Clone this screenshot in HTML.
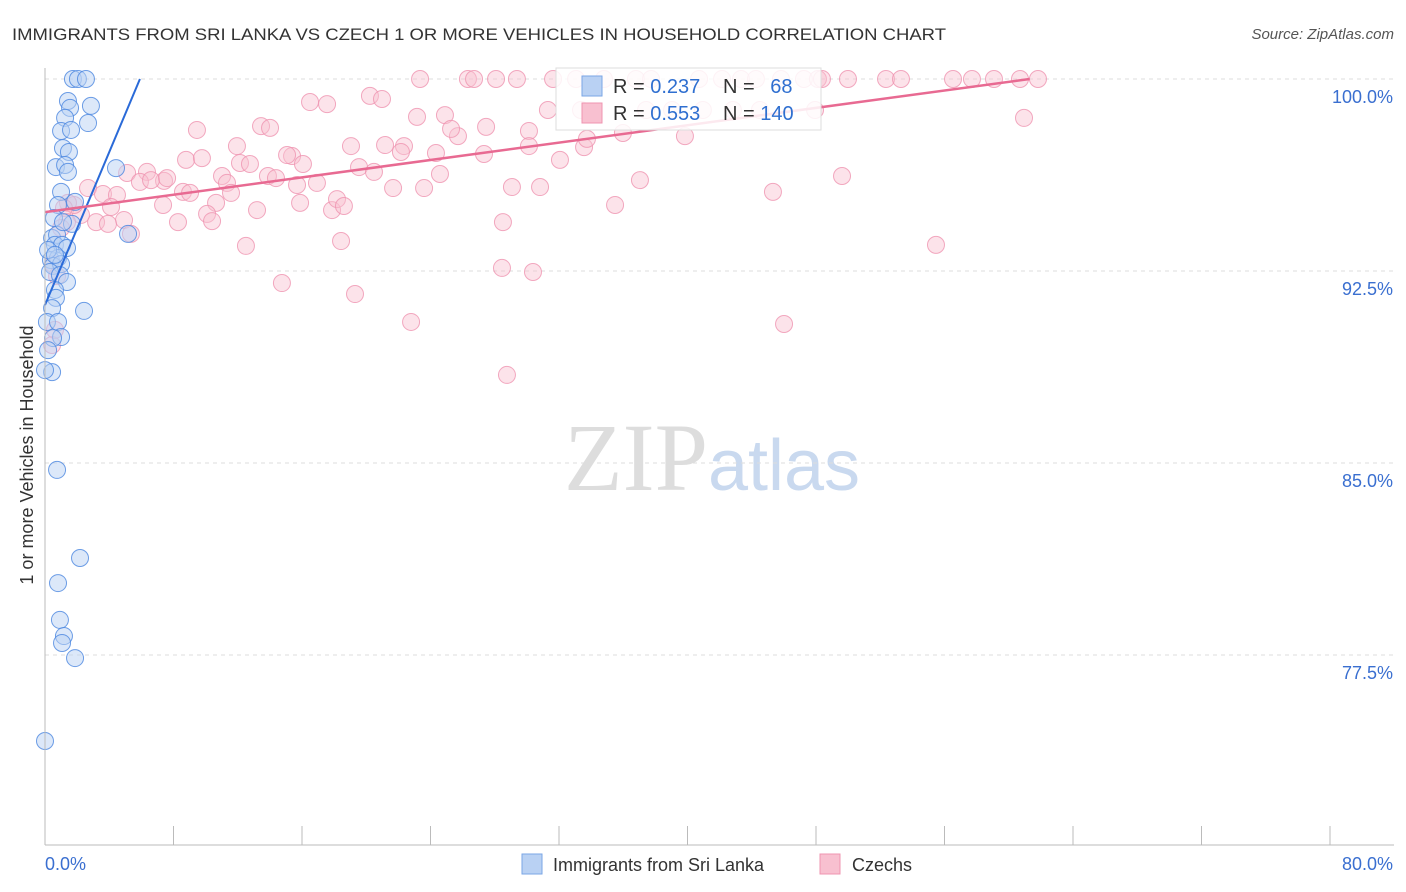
<!DOCTYPE html>
<html><head><meta charset="utf-8"><style>
body{margin:0;background:#fff;font-family:"Liberation Sans",sans-serif}
#c{position:absolute;left:0;top:0}
</style></head><body>
<svg id="c" width="1406" height="892" xmlns="http://www.w3.org/2000/svg">
<text x="12" y="40" font-size="17" fill="#333" textLength="934" lengthAdjust="spacingAndGlyphs">IMMIGRANTS FROM SRI LANKA VS CZECH 1 OR MORE VEHICLES IN HOUSEHOLD CORRELATION CHART</text>
<text x="1394" y="39" font-size="15" font-style="italic" fill="#555" text-anchor="end">Source: ZipAtlas.com</text>
<text transform="translate(33,455) rotate(-90)" font-size="18" fill="#333" text-anchor="middle">1 or more Vehicles in Household</text>
<text x="712" y="490" font-size="96" text-anchor="middle" font-family="Liberation Serif" fill="#ddd">ZIP<tspan fill="#c9d9ef" font-family="Liberation Sans" font-size="72">atlas</tspan></text>
<g id="grid"></g><g id="pts"></g><g id="lines"></g>
<line x1="45" y1="68" x2="45" y2="845" stroke="#bbb"/>
<line x1="45" y1="845" x2="1394" y2="845" stroke="#bbb"/>
<g id="ticks"></g>
<g>
<rect x="556" y="68" width="265" height="62" fill="#fff" fill-opacity="0.85" stroke="#ddd"/>
<rect x="582" y="76" width="20" height="20" fill="#b9d1f3" stroke="#7aa6e6"/>
<rect x="582" y="103" width="20" height="20" fill="#f8c0d0" stroke="#ef94b0"/>
<text x="613" y="93" font-size="20" fill="#333">R = <tspan fill="#2f6fd0">0.237</tspan></text>
<text x="723" y="93" font-size="20" fill="#333">N = <tspan fill="#2f6fd0" dx="10">68</tspan></text>
<text x="613" y="120" font-size="20" fill="#333">R = <tspan fill="#2f6fd0">0.553</tspan></text>
<text x="723" y="120" font-size="20" fill="#333">N = <tspan fill="#2f6fd0">140</tspan></text>
</g>
<g>
<rect x="522" y="854" width="20" height="20" fill="#b9d1f3" stroke="#7aa6e6"/>
<text x="553" y="871" font-size="18" fill="#333">Immigrants from Sri Lanka</text>
<rect x="820" y="854" width="20" height="20" fill="#f8c0d0" stroke="#ef94b0"/>
<text x="852" y="871" font-size="18" fill="#333">Czechs</text>
</g>
</svg>
<script>
const yTicks=[100,92.5,85,77.5];
const yTickLabels=["100.0%","92.5%","85.0%","77.5%"];
const xTicks=[0,8,16,24,32,40,48,56,64,72,80];
const xEndLabels=["0.0%","80.0%"];
const blueX=[1.74,2.05,2.55,1.43,1.56,2.86,1.25,2.68,1.00,1.62,1.12,1.49,0.68,1.25,1.43,4.42,1.00,0.81,1.87,1.68,5.17,0.44,0.75,0.62,1.06,1.37,0.37,0.81,0.50,1.00,0.31,0.93,1.37,0.62,0.68,0.44,2.43,0.12,0.81,1.00,0.50,0.19,0.44,0.00,0.75,2.18,0.81,0.93,1.18,1.06,1.87,0.00,0.56,1.12,0.19,0.62];
const blueY=[100,100,100,99.14,98.87,98.95,98.48,98.28,97.97,98.01,97.30,97.15,96.56,96.64,96.37,96.52,95.59,95.08,95.20,94.34,93.95,93.79,93.91,93.52,93.52,93.40,92.93,93.01,92.70,92.77,92.46,92.34,92.07,91.76,91.45,91.05,90.94,90.51,90.51,89.92,89.88,89.41,88.55,88.63,84.73,81.29,80.31,78.87,78.24,77.97,77.38,74.14,94.57,94.41,93.32,93.13];
const pinkX=[23.35,26.33,26.71,28.08,29.38,31.63,33.06,34.80,36.79,37.73,40.72,42.15,43.33,44.26,45.82,47.25,48.12,48.37,49.99,52.36,53.29,56.53,57.71,59.08,60.70,61.82,
31.31,33.37,37.42,39.04,40.96,42.83,44.51,47.94,
16.50,17.56,20.23,20.98,9.46,11.95,13.45,14.01,15.38,15.07,19.05,21.17,22.35,22.16,23.16,24.90,25.71,25.28,27.46,27.33,24.34,30.13,30.13,32.06,33.56,33.74,35.98,39.84,
8.78,9.77,6.35,7.41,5.11,5.91,6.60,7.60,8.59,9.03,11.02,11.33,12.14,12.76,13.88,14.38,15.69,16.06,16.93,11.58,10.65,13.20,15.88,17.87,18.18,18.61,19.55,20.48,21.67,23.60,24.59,29.07,30.82,35.49,37.04,45.32,49.62,
2.68,3.61,4.48,4.11,4.92,5.35,3.18,3.92,2.24,1.81,1.43,1.18,1.37,1.00,8.28,10.09,10.40,7.35,12.51,14.75,18.43,19.30,22.79,28.51,28.45,30.38,28.76,46.01,55.47,60.95,0.50,0.44,0.62,0.75];
const pinkY=[100,100,100,100,100,100,100,100,100,100,100,100,100,100,100,100,100,100,100,100,100,100,100,100,100,100,
98.79,98.79,98.79,98.79,98.79,98.79,98.79,98.79,
99.10,99.02,99.34,99.22,98.01,97.38,98.16,98.09,96.99,97.03,97.38,97.42,97.38,97.15,98.52,98.59,97.77,98.05,98.13,97.07,97.11,97.97,97.38,96.84,97.34,97.66,97.89,97.77,
96.84,96.91,96.37,96.02,96.33,95.98,96.05,96.13,95.59,95.55,96.21,95.94,96.72,96.68,96.21,96.13,95.86,96.68,95.94,95.55,95.16,94.88,95.16,94.88,95.31,95.04,96.56,96.37,95.74,95.74,96.29,95.78,95.78,95.08,96.05,95.59,96.21,
95.74,95.51,95.47,95.00,94.49,93.95,94.41,94.34,94.69,95.08,95.16,94.96,94.41,94.18,94.41,94.73,94.45,95.08,93.48,92.03,93.67,91.60,90.51,94.41,92.62,92.46,88.44,90.43,93.52,98.48,92.77,89.61,90.20,92.30];
const X0=45,PX=128.5/8,Y0=79,PY=25.6;
const sx=v=>X0+v*PX, sy=v=>Y0+(100-v)*PY;
const NS="http://www.w3.org/2000/svg";
function mk(tag,attrs,parent){const e=document.createElementNS(NS,tag);for(const k in attrs)e.setAttribute(k,attrs[k]);parent.appendChild(e);return e;}
const grid=document.getElementById('grid'),ticks=document.getElementById('ticks');
yTicks.forEach((v,i)=>{
 const l=mk('line',{x1:45,x2:1394,y1:sy(v),y2:sy(v),stroke:'#ddd','stroke-dasharray':'4,4'},grid);
 
 
 const t=mk('text',{x:1393,y:sy(v)+24,'font-size':18,fill:'#3a6fd0','text-anchor':'end'},ticks);
 t.textContent=yTickLabels[i];
 
 
});
xTicks.forEach(v=>{
 const l=mk('line',{x1:sx(v),x2:sx(v),y1:826,y2:845,stroke:'#bbb'},ticks);
 
 
});
[[0,'start',45],[80,'end',1393]].forEach((a,i)=>{
 const t=mk('text',{x:a[2],y:870,'font-size':18,fill:'#3a6fd0','text-anchor':a[1]},ticks);
 t.textContent=xEndLabels[i];
 
 
});
const pts=document.getElementById('pts');
pinkX.forEach((x,i)=>{
 const c=mk('circle',{cx:sx(x),cy:sy(pinkY[i]),r:8.5,fill:'#f8c0d0','fill-opacity':0.45,stroke:'#ef94b0','stroke-opacity':0.8},pts);
 
 
});
blueX.forEach((x,i)=>{
 const c=mk('circle',{cx:sx(x),cy:sy(blueY[i]),r:8.5,fill:'#b9d1f3','fill-opacity':0.5,stroke:'#4a86e0','stroke-opacity':0.8},pts);
 
 
});
const lines=document.getElementById('lines');
const bl=mk('line',{x1:sx(0),y1:sy(91.17),x2:sx(5.91),y2:sy(100),stroke:'#2a6ad8','stroke-width':2},lines);


const pl=mk('line',{x1:sx(0),y1:sy(94.8),x2:sx(61.3),y2:sy(100),stroke:'#e86a92','stroke-width':2.5},lines);


</script>
</body></html>
